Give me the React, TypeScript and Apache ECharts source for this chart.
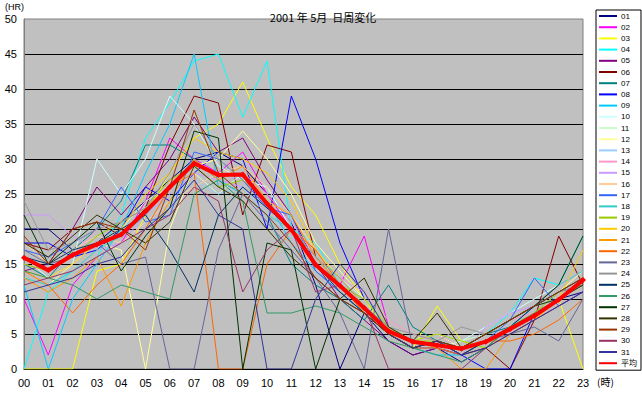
import React, { useEffect, useRef } from "react";
import * as echarts from "echarts";

const hours = ["00","01","02","03","04","05","06","07","08","09","10","11","12","13","14","15","16","17","18","19","20","21","22","23"];
const yTicks = [0, 5, 10, 15, 20, 25, 30, 35, 40, 45, 50];
const titleText = "2001 年 5月  日周変化";

const dayNames = ["01","02","03","04","05","06","07","08","09","10","11","12","13","14","15","16","17","18","19","20","21","22","23","24","25","26","27","28","29","30","31"];
const dayColors = ["#000080","#FF00FF","#FFFF00","#00FFFF","#800080","#800000","#008080","#0000FF","#00CCFF","#CCFFFF","#CCFFCC","#FFFF99","#99CCFF","#FF99CC","#CC99FF","#FFCC99","#3366FF","#33CCCC","#99CC00","#FFCC00","#FF9900","#FF6600","#666699","#969696","#003366","#339966","#003300","#333300","#993300","#993366","#333399"];

const d01 = [20,20,17,18,21,24,27,30,31,29,25,21,12,0,8,4,2,3,1,3,6,8,10,11];
const d02 = [10,2,12,16,18,24,33,30,28,31,25,20,15,12,19,6,4,5,3,4,6,9,12,14];
const d03 = [0,0,0,14,15,22,28,33,35,41,33,26,22,15,10,5,3,9,4,3,5,7,10,0];
const d04 = [0,11,14,16,22,33,38,44,45,36,44,20,18,12,9,5,3,4,3,5,8,13,12,19];
const d05 = [14,15,20,26,22,26,30,36,31,33,27,22,15,10,7,4,2,3,2,4,6,8,11,13];
const d06 = [18,17,20,21,19,23,32,39,38,22,32,31,16,12,9,5,3,4,2,3,0,7,19,12];
const d07 = [15,13,17,20,24,32,32,30,27,25,22,15,12,10,7,12,6,4,3,5,6,9,11,12];
const d08 = [18,18,16,17,20,26,24,28,31,30,20,39,30,18,10,6,4,3,2,0,0,8,10,13];
const d09 = [12,0,10,15,20,28,35,45,26,28,24,18,14,11,8,5,3,2,2,4,6,9,10,12];
const d10 = [16,13,15,30,25,30,39,35,29,27,26,20,16,13,9,5,4,5,4,6,8,10,12,14];
const d11 = [17,15,17,18,20,24,26,28,25,28,24,22,17,13,10,6,4,3,4,5,7,9,11,13];
const d12 = [14,12,15,18,17,0,20,29,30,34,30,25,18,14,10,6,4,5,3,4,6,8,11,14];
const d13 = [13,12,14,16,18,21,24,27,25,26,22,19,15,12,9,5,4,3,3,4,6,8,10,12];
const d14 = [15,14,16,20,21,23,27,29,26,28,25,21,16,13,11,7,5,4,3,5,7,8,10,12];
const d15 = [22,22,19,17,18,22,25,28,27,26,23,20,16,12,9,5,4,3,2,6,8,9,11,13];
const d16 = [18,15,17,19,18,21,24,26,28,29,26,22,17,13,9,6,4,3,3,4,6,8,10,12];
const d17 = [17,16,18,20,26,21,22,31,30,27,23,22,14,11,8,5,3,3,2,4,7,13,9,11];
const d18 = [13,12,14,17,19,22,26,30,27,25,22,20,16,12,9,6,4,4,3,5,7,9,12,14];
const d19 = [15,14,16,19,21,23,27,29,26,27,24,20,15,12,10,6,4,5,4,3,6,8,11,13];
const d20 = [14,13,15,18,20,25,28,33,31,30,28,24,17,13,9,5,4,4,2,4,6,8,10,17];
const d21 = [13,11,13,16,9,18,24,30,27,29,24,22,16,12,8,5,4,3,0,0,5,7,10,12];
const d22 = [14,12,8,12,15,20,26,28,0,0,15,20,17,12,8,5,3,3,2,4,4,5,7,10];
const d23 = [17,15,16,18,15,16,0,0,17,25,21,17,13,8,0,20,3,4,2,4,5,6,4,10];
const d24 = [24,17,18,20,21,23,28,35,30,27,24,20,16,13,9,6,5,4,6,5,7,9,11,12];
const d25 = [16,15,17,18,20,22,17,11,22,26,23,20,15,11,8,5,3,4,2,4,6,9,11,13];
const d26 = [14,13,12,10,12,11,10,25,27,24,8,8,9,8,6,4,3,2,1,3,6,8,10,12];
const d27 = [22,15,18,21,14,19,23,34,33,0,18,17,0,10,8,5,3,4,3,5,7,9,12,19];
const d28 = [18,16,19,22,20,18,21,29,26,24,20,16,13,10,13,6,4,8,3,5,7,9,10,12];
const d29 = [19,15,20,21,20,17,26,37,28,25,22,18,13,10,8,5,3,4,3,5,7,9,11,13];
const d30 = [12,13,14,16,18,20,22,26,24,11,17,20,11,12,9,0,0,0,0,3,5,7,9,11];
const d31 = [11,12,13,15,16,20,23,27,22,20,0,0,10,15,11,5,3,4,2,3,5,7,9,11];
const avgName = "平均";
const avgValues = [15.9,14.1,16.3,17.8,19.2,22.5,26,29.4,27.7,27.8,23.6,19.9,14.9,11.9,8.7,5.4,3.9,3.4,2.9,3.9,5.7,7.6,9.9,12.7];

const dayValues = [d01,d02,d03,d04,d05,d06,d07,d08,d09,d10,d11,d12,d13,d14,d15,d16,d17,d18,d19,d20,d21,d22,d23,d24,d25,d26,d27,d28,d29,d30,d31];

export default function App() {
  const ref = useRef<HTMLDivElement>(null);
  useEffect(() => {
    document.body.style.margin = "0";
    if (!ref.current) return;
    const chart = echarts.init(ref.current, null, { renderer: "svg" });
    const series: any[] = dayNames.map((n, i) => ({
      name: n,
      type: "line",
      data: dayValues[i],
      symbol: "none",
      lineStyle: { width: 1, color: dayColors[i] },
      itemStyle: { color: dayColors[i] },
    }));
    series.push({
      name: avgName,
      type: "line",
      data: avgValues,
      symbol: "diamond",
      symbolSize: 6,
      lineStyle: { width: 4, color: "#FF0000" },
      itemStyle: { color: "#FF0000" },
      z: 5,
    });
    chart.setOption({
      animation: false,
      backgroundColor: "#FFFFFF",
      title: {
        text: titleText,
        left: 318,
        textAlign: "center",
        top: 6,
        textStyle: { fontSize: 11, fontWeight: "normal", color: "#000", fontFamily: "Noto Sans CJK JP" },
      },
      grid: {
        left: 24, right: 59, top: 19, bottom: 26,
        show: true, backgroundColor: "#C0C0C0", borderColor: "#808080", borderWidth: 1,
      },
      legend: {
        orient: "vertical",
        left: 596,
        top: 10,
        padding: [2, 4, 3, 3],
        borderColor: "#000",
        borderWidth: 1,
        backgroundColor: "#FFF",
        itemWidth: 18,
        itemHeight: 2,
        itemGap: 3.2,
        icon: "rect",
        textStyle: { fontSize: 8, lineHeight: 8, color: "#000", fontFamily: "Liberation Sans, Noto Sans CJK JP", padding: [0, 0, 0, -1] },
        data: [...dayNames, avgName],
      },
      xAxis: {
        type: "category",
        data: hours,
        boundaryGap: false,
        axisLine: { lineStyle: { color: "#000", width: 1 } },
        axisTick: { show: false },
        axisLabel: { fontSize: 11, color: "#000", margin: 8, fontFamily: "Liberation Sans" },
        splitLine: { show: false },
      },
      yAxis: {
        type: "value",
        min: yTicks[0],
        max: yTicks[yTicks.length - 1],
        interval: 5,
        axisLine: { show: true, lineStyle: { color: "#808080" } },
        axisTick: { show: false },
        axisLabel: { fontSize: 11, color: "#000", margin: 7, fontFamily: "Liberation Sans" },
        splitLine: { show: true, showMaxLine: false, lineStyle: { color: "#000", width: 1 } },
      },
      graphic: [
        { type: "text", left: 5, top: 2, style: { text: "(HR)", fontSize: 9, fill: "#000", fontFamily: "Liberation Sans" } },
        { type: "text", left: 597, top: 376, style: { text: "(時)", fontSize: 10, fill: "#000", fontFamily: "Noto Sans CJK JP" } },
      ],
      series,
    });
    return () => chart.dispose();
  }, []);
  return <div ref={ref} style={{ width: 642, height: 395 }} />;
}
